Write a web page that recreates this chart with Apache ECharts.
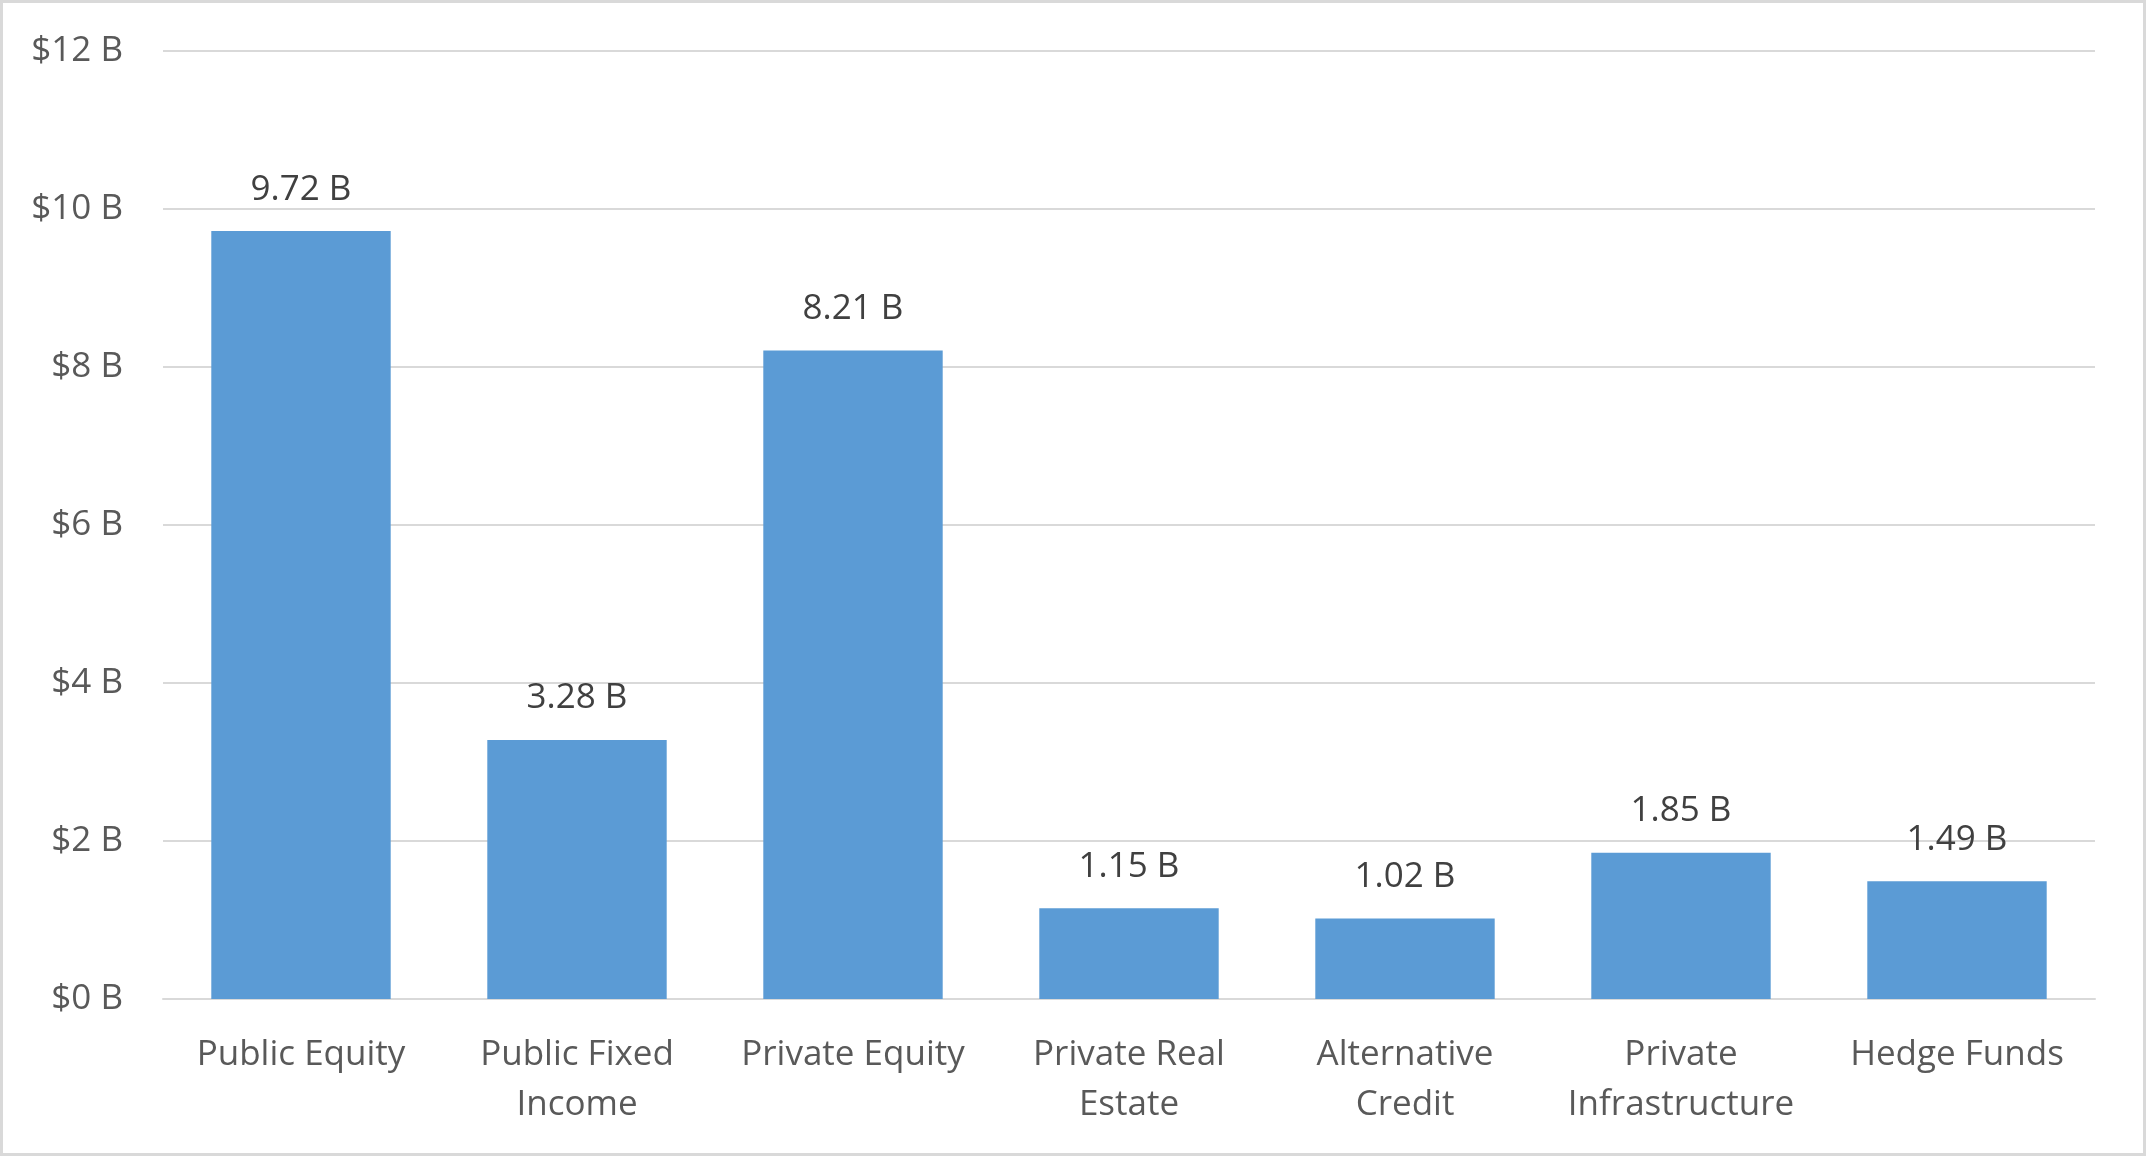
<!DOCTYPE html>
<html>
<head>
<meta charset="utf-8">
<style>
html,body{margin:0;padding:0;background:#fff;}
#chart{width:2147px;height:1157px;}
</style>
<script src="https://cdn.jsdelivr.net/npm/echarts@6/dist/echarts.min.js"></script>
</head>
<body>
<div id="chart"></div>
<script>
const categories = ["Public Equity", "Public Fixed\nIncome", "Private Equity", "Private Real\nEstate", "Alternative\nCredit", "Private\nInfrastructure", "Hedge Funds"];
const values = [9.72, 3.28, 8.21, 1.15, 1.02, 1.85, 1.49];
const yMin = 0, yMax = 12, yStep = 2;

const FONT = "'Open Sans', 'Noto Sans', sans-serif";
const chart = echarts.init(document.getElementById('chart'), null, {renderer: 'canvas'});
chart.setOption({
  backgroundColor: '#ffffff',
  animation: false,
  graphic: [{
    type: 'rect', silent: true,
    shape: {x: 1.5, y: 1.5, width: 2143, height: 1153},
    style: {fill: 'none', stroke: '#d9d9d9', lineWidth: 3}
  }],
  grid: {left: 163, right: 52, top: 51, bottom: 158, containLabel: false},
  xAxis: {
    type: 'category',
    data: categories,
    axisLine: {show: true, lineStyle: {color: '#d9d9d9', width: 2}},
    axisTick: {show: false},
    axisLabel: {color: '#595959', fontSize: 35, fontFamily: FONT, lineHeight: 50, margin: 31, interval: 0}
  },
  yAxis: {
    type: 'value',
    min: yMin, max: yMax, interval: yStep,
    axisLine: {show: false},
    axisTick: {show: false},
    splitLine: {lineStyle: {color: '#d9d9d9', width: 2}},
    axisLabel: {color: '#595959', fontSize: 35, fontFamily: FONT, margin: 40, padding: [5, 0, 0, 0],
      formatter: v => '$' + v + ' B'}
  },
  series: [{
    type: 'bar',
    data: values,
    barCategoryGap: '35%',
    itemStyle: {color: '#5b9bd5'},
    label: {show: true, position: 'top', distance: 24, color: '#404040', fontSize: 35, fontFamily: FONT,
      formatter: p => p.value.toFixed(2) + ' B'}
  }]
});
</script>
</body>
</html>
